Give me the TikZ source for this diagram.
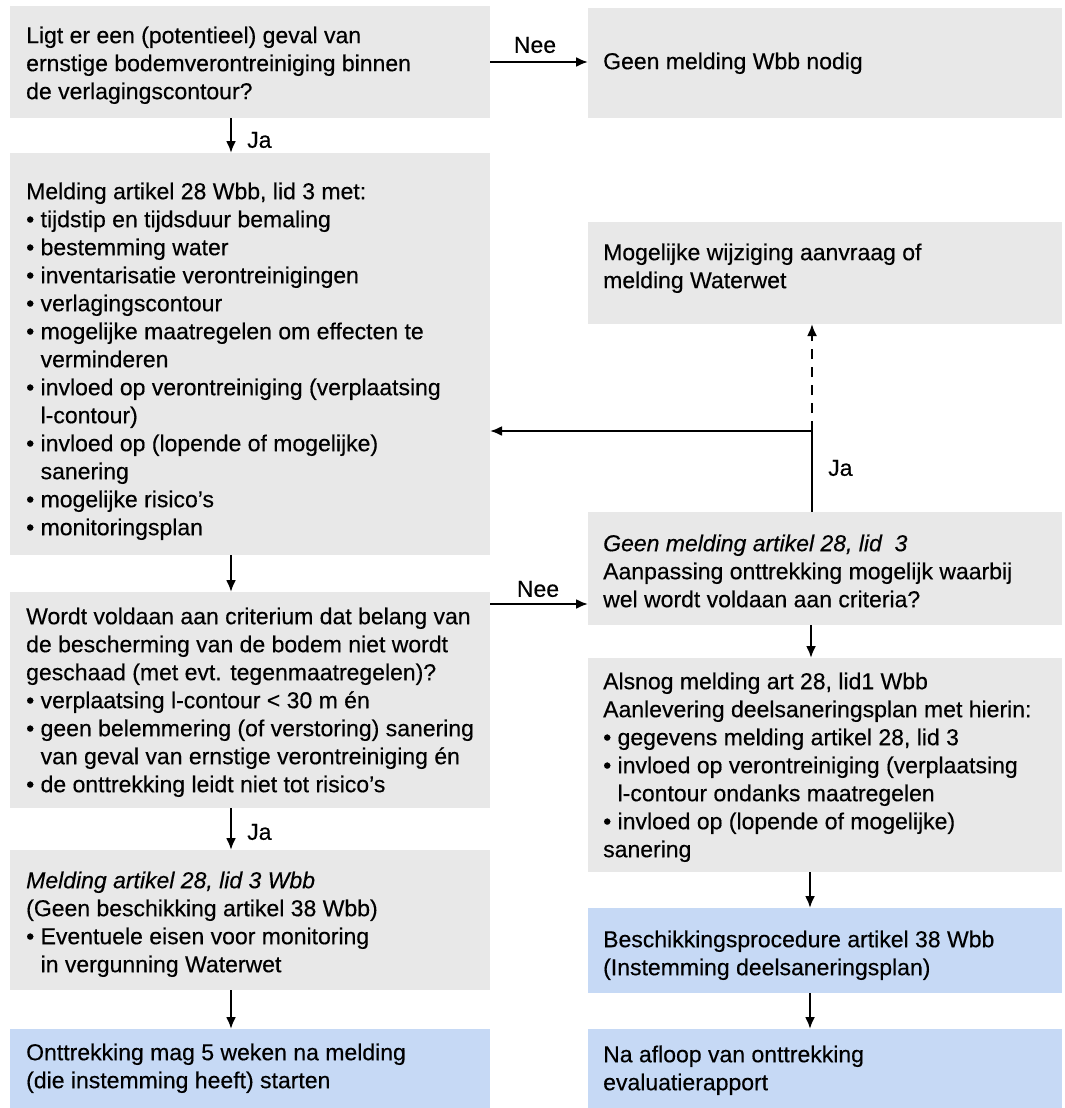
\documentclass[tikz,border=0pt]{standalone}
\usepackage{fontspec}
\setmainfont{Liberation Sans}[FakeBold=0.4]
\usetikzlibrary{arrows.meta,calc}
\definecolor{boxgrey}{HTML}{E8E8E8}
\definecolor{boxblue}{HTML}{C6D9F5}
\newcommand\bul{\textbullet\ }
\newcommand\ind{\phantom{\textbullet\ }}
\begin{document}
\begin{tikzpicture}[x=1pt,y=-1pt,
  gbox/.style={fill=boxgrey, draw=none, anchor=north west, inner sep=0pt, outer sep=0pt},
  bbox/.style={fill=boxblue, draw=none, anchor=north west, inner sep=0pt, outer sep=0pt},
  txt/.style={anchor=north west, inner sep=0pt, align=left, font=\fontsize{23}{28}\selectfont},
  lbl/.style={inner sep=0pt, font=\fontsize{23}{28}\selectfont},
  arr/.style={line width=2.2pt, -{Latex[length=12pt,width=10pt]}},
  ln/.style={line width=2.2pt},
]
\useasboundingbox (0,0) rectangle (1065,1108);
% boxes
\node[gbox, minimum width=480pt, minimum height=112pt] (A) at (10,6) {};
\node[gbox, minimum width=474pt, minimum height=110pt] (G1) at (588,8) {};
\node[gbox, minimum width=480pt, minimum height=402pt] (B) at (10,153) {};
\node[gbox, minimum width=474pt, minimum height=102pt] (M) at (588,222) {};
\node[gbox, minimum width=474pt, minimum height=113pt] (GM) at (588,512) {};
\node[gbox, minimum width=480pt, minimum height=216pt] (C) at (10,592) {};
\node[gbox, minimum width=474pt, minimum height=214pt] (AL) at (588,658) {};
\node[gbox, minimum width=480pt, minimum height=140pt] (D) at (10,850) {};
\node[bbox, minimum width=480pt, minimum height=79pt] (E) at (10,1029) {};
\node[bbox, minimum width=474pt, minimum height=85pt] (BP) at (588,908) {};
\node[bbox, minimum width=474pt, minimum height=79pt] (NA) at (588,1029) {};
% texts
\node[txt] (At) at (26,23.4) {\strut Ligt er een (potentieel) geval van\\ernstige bodemverontreiniging binnen\\de verlagingscontour?};
\node[txt] (G1t) at (603,49.4) {\strut Geen melding Wbb nodig};
\node[txt] (Bt) at (26,179.4) {\strut Melding artikel 28 Wbb, lid 3 met:\\\bul tijdstip en tijdsduur bemaling\\\bul bestemming water\\\bul inventarisatie verontreinigingen\\\bul verlagingscontour\\\bul mogelijke maatregelen om effecten te\\\ind verminderen\\\bul invloed op verontreiniging (verplaatsing\\\ind l-contour)\\\bul invloed op (lopende of mogelijke)\\\ind sanering\\\bul mogelijke risico's\\\bul monitoringsplan};
\node[txt] (Mt) at (603,240.4) {\strut Mogelijke wijziging aanvraag of\\melding Waterwet};
\node[txt] (GMt) at (603,531.4) {\strut\textit{Geen melding artikel 28, lid\ \ 3}\\Aanpassing onttrekking mogelijk waarbij\\wel wordt voldaan aan criteria?};
\node[txt] (Ct) at (26,604.4) {\strut Wordt voldaan aan criterium dat belang van\\de bescherming van de bodem niet wordt\\geschaad (met evt. tegenmaatregelen)?\\\bul verplaatsing l-contour < 30 m én\\\bul geen belemmering (of verstoring) sanering\\\ind van geval van ernstige verontreiniging én\\\bul de onttrekking leidt niet tot risico's};
\node[txt] (ALt) at (603,669.4) {\strut Alsnog melding art 28, lid1 Wbb\\Aanlevering deelsaneringsplan met hierin:\\\bul gegevens melding artikel 28, lid 3\\\bul invloed op verontreiniging (verplaatsing\\\ind l-contour ondanks maatregelen\\\bul invloed op (lopende of mogelijke)\\sanering};
\node[txt] (Dt) at (26,868.4) {\strut\textit{Melding artikel 28, lid 3 Wbb}\\(Geen beschikking artikel 38 Wbb)\\\bul Eventuele eisen voor monitoring\\\ind in vergunning Waterwet};
\node[txt] (Et) at (26,1040.4) {\strut Onttrekking mag 5 weken na melding\\(die instemming heeft) starten};
\node[txt] (BPt) at (603,927.4) {\strut Beschikkingsprocedure artikel 38 Wbb\\(Instemming deelsaneringsplan)};
\node[txt] (NAt) at (603,1042.4) {\strut Na afloop van onttrekking\\evaluatierapport};
% labels
\node[lbl] (nee1) at (535,45) {Nee};
\node[lbl, anchor=west] (ja1) at (247,140) {Ja};
\node[lbl] (nee2) at (538,589) {Nee};
\node[lbl, anchor=west] (ja2) at (828,468) {Ja};
\node[lbl, anchor=west] (ja3) at (247,832) {Ja};
% connectors
\draw[arr] (A.east) -- (A.east -| G1.west);
\draw[arr] ([xshift=221pt]A.south west) -- ([xshift=221pt]B.north west);
\draw[arr] ([xshift=221pt]B.south west) -- ([xshift=221pt]C.north west);
\draw[arr] ([yshift=-12pt]C.north east) -- ([yshift=-12pt]C.north east -| GM.west);
\coordinate (J) at (812,431);
\draw[ln] ([xshift=224pt]GM.north west) -- (J);
\draw[arr] (J) -- (J -| B.east);
\draw[arr, dash pattern=on 10pt off 8pt] (J) -- (J |- M.south);
\draw[arr] ([xshift=223pt]GM.south west) -- ([xshift=223pt]AL.north west);
\draw[arr] ([xshift=221pt]C.south west) -- ([xshift=221pt]D.north west);
\draw[arr] ([xshift=221pt]D.south west) -- ([xshift=221pt]E.north west);
\draw[arr] ([xshift=222pt]AL.south west) -- ([xshift=222pt]BP.north west);
\draw[arr] ([xshift=222pt]BP.south west) -- ([xshift=222pt]NA.north west);
\end{tikzpicture}
\end{document}
